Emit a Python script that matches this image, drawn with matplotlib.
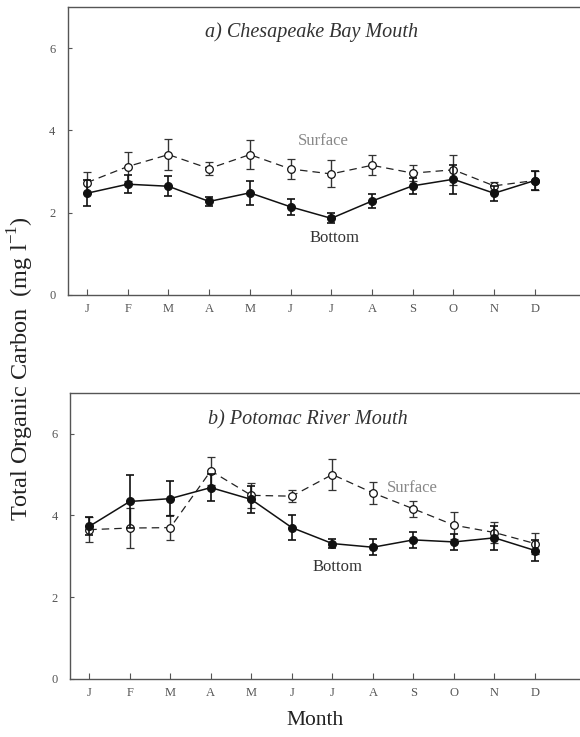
import matplotlib
matplotlib.use("Agg")
import matplotlib.pyplot as plt
import numpy as np

months = ["J", "F", "M", "A", "M", "J", "J", "A", "S", "O", "N", "D"]
month_pos = list(range(1, 13))

# a) Chesapeake Bay Mouth
ches_surface = [2.73, 3.12, 3.41, 3.07, 3.41, 3.06, 2.94, 3.15, 2.96, 3.04, 2.65, 2.78]
ches_surface_err = [0.25, 0.35, 0.38, 0.16, 0.35, 0.25, 0.33, 0.24, 0.20, 0.36, 0.10, 0.24]
ches_bottom = [2.47, 2.69, 2.64, 2.27, 2.48, 2.14, 1.86, 2.28, 2.65, 2.81, 2.47, 2.78]
ches_bottom_err = [0.32, 0.22, 0.24, 0.12, 0.30, 0.20, 0.12, 0.17, 0.19, 0.35, 0.18, 0.22]

# b) Potomac River Mouth
poto_surface = [3.65, 3.69, 3.70, 5.09, 4.49, 4.47, 5.00, 4.55, 4.16, 3.76, 3.58, 3.31]
poto_surface_err = [0.30, 0.48, 0.30, 0.35, 0.30, 0.14, 0.37, 0.27, 0.20, 0.33, 0.25, 0.26]
poto_bottom = [3.73, 4.34, 4.41, 4.68, 4.39, 3.70, 3.31, 3.22, 3.40, 3.35, 3.45, 3.14]
poto_bottom_err = [0.22, 0.66, 0.43, 0.33, 0.33, 0.30, 0.11, 0.20, 0.19, 0.20, 0.30, 0.25]

yticks = [0, 2, 4, 6]

serif = ["Liberation Serif", "DejaVu Serif"]
plt.rcParams["font.family"] = serif

fig = plt.figure(figsize=(5.8, 7.37), dpi=100)
ax1 = fig.add_axes([0.117, 0.600, 0.883, 0.3905])
ax2 = fig.add_axes([0.121, 0.079, 0.879, 0.388])


def panel(ax, surf, surf_err, bot, bot_err, title, title_xy, surf_xy, bot_xy):
    ax.errorbar(month_pos, surf, yerr=surf_err, fmt="o", linestyle=(0, (6, 4)),
                color="#222222", ecolor="#333333", elinewidth=1.0, capsize=3,
                capthick=1.0, markersize=5.5, markerfacecolor="white",
                markeredgecolor="#111111", markeredgewidth=0.9, lw=0.9, zorder=3)
    ax.errorbar(month_pos, bot, yerr=bot_err, fmt="o", linestyle="-",
                color="#111111", ecolor="#111111", elinewidth=1.2, capsize=3,
                capthick=1.2, markersize=5.5, markerfacecolor="#111111",
                markeredgecolor="#111111", lw=1.1, zorder=4)
    ax.set_xlim(0.53, 13.11)
    ax.set_ylim(0, 7)
    ax.set_xticks(month_pos)
    ax.set_xticklabels(months, fontsize=9, color="#555555")
    ax.set_yticks(yticks)
    ax.set_yticklabels([str(v) for v in yticks], fontsize=9, color="#555555")
    ax.tick_params(axis="x", direction="in", length=4, width=0.8, color="#555555", pad=6)
    ax.tick_params(axis="y", direction="in", length=3, width=0.8, color="#555555", pad=9)
    ax.spines["right"].set_visible(False)
    for s in ["left", "top", "bottom"]:
        ax.spines[s].set_color("#555555")
        ax.spines[s].set_linewidth(1.0)
    ax.text(title_xy[0], title_xy[1], title, fontsize=14.5, style="italic",
            ha="center", va="center", color="#333333")
    ax.text(surf_xy[0], surf_xy[1], "Surface", fontsize=12, ha="center",
            va="center", color="#888888")
    ax.text(bot_xy[0], bot_xy[1], "Bottom", fontsize=12, ha="center",
            va="center", color="#333333")


panel(ax1, ches_surface, ches_surface_err, ches_bottom, ches_bottom_err,
      "a) Chesapeake Bay Mouth", (6.52, 6.39), (6.8, 3.73), (7.09, 1.39))
panel(ax2, poto_surface, poto_surface_err, poto_bottom, poto_bottom_err,
      "b) Potomac River Mouth", (6.39, 6.35), (8.98, 4.68), (7.13, 2.73))

fig.text(0.036, 0.5, "Total Organic Carbon  (mg l$^{\\mathregular{-1}}$)", rotation=90,
         ha="center", va="center", fontsize=17.5, color="#222222")
fig.text(0.543, 0.023, "Month", ha="center", va="center", fontsize=15.5,
         color="#222222")

fig.savefig("out.png", dpi=100)
